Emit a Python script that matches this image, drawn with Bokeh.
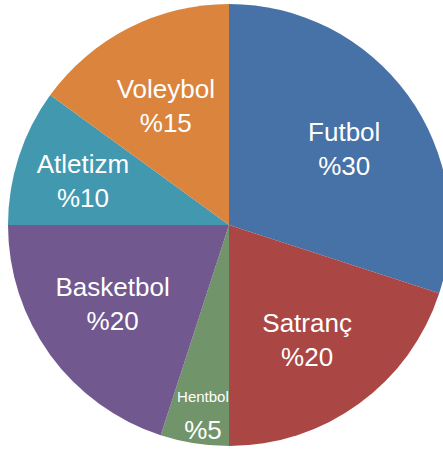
import math
from bokeh.plotting import figure
from bokeh.models import ColumnDataSource, Range1d
from bokeh.core.properties import value
from bokeh.embed import file_html
from bokeh.resources import INLINE

# --- data ---
sports = ["Futbol", "Satranç", "Hentbol", "Basketbol", "Atletizm", "Voleybol"]
percents = [30, 20, 5, 20, 10, 15]
colors = ["#4672A8", "#AA4744", "#71946A", "#71588F", "#4298AF", "#DB843D"]

# --- layout / style parameters ---
W, H = 443, 450
CX, CY, R = 228.5, 225.5, 221.0
label_frac = [0.622, 0.632, 0.87, 0.64, 0.69, 0.61]
label_nudge = [(4, 6), (-4, 3), (4, 0), (-2, -3), (-1, 4), (-2, 2)]  # screen px (right, down)
name_size = ["26px", "26px", "15px", "26px", "26px", "26px"]
BASELINE_FIX = 10

total = float(sum(percents))
starts, ends, mids = [], [], []
cum = 0.0
for v in percents:
    a0 = math.pi / 2 - 2 * math.pi * (cum + v) / total
    a1 = math.pi / 2 - 2 * math.pi * cum / total
    starts.append(a0)
    ends.append(a1)
    mids.append((a0 + a1) / 2)
    cum += v

src = ColumnDataSource(dict(sport=sports, pct=percents, color=colors,
                            start=starts, end=ends,
                            x=[CX] * len(sports), y=[CY] * len(sports)))

p = figure(width=W, height=H, output_backend="svg", toolbar_location=None,
           x_range=Range1d(0, W), y_range=Range1d(0, H),
           min_border=0, outline_line_color=None,
           background_fill_color="white", border_fill_color="white")
p.axis.visible = False
p.grid.visible = False

p.wedge(x="x", y="y", radius=R, start_angle="start", end_angle="end",
        fill_color="color", line_color=None, source=src)

name_x, name_y, pct_x, pct_y, pct_txt = [], [], [], [], []
for i, s in enumerate(sports):
    r = label_frac[i] * R
    ax = CX + r * math.cos(mids[i]) + label_nudge[i][0]
    ay = CY + r * math.sin(mids[i]) - label_nudge[i][1] + BASELINE_FIX
    name_x.append(ax)
    name_y.append(ay + 8)
    pct_x.append(ax)
    pct_y.append(ay - (25 if s == "Hentbol" else 26))
    pct_txt.append("%" + str(percents[i]))

p.text(x=name_x, y=name_y, text=sports, text_color="white",
       text_font=value("Liberation Sans"), text_font_size=name_size,
       text_align="center", text_baseline="alphabetic")
p.text(x=pct_x, y=pct_y, text=pct_txt, text_color="white",
       text_font=value("Liberation Sans"), text_font_size="26px",
       text_align="center", text_baseline="alphabetic")

open("out.html", "w").write(file_html(p, INLINE))
